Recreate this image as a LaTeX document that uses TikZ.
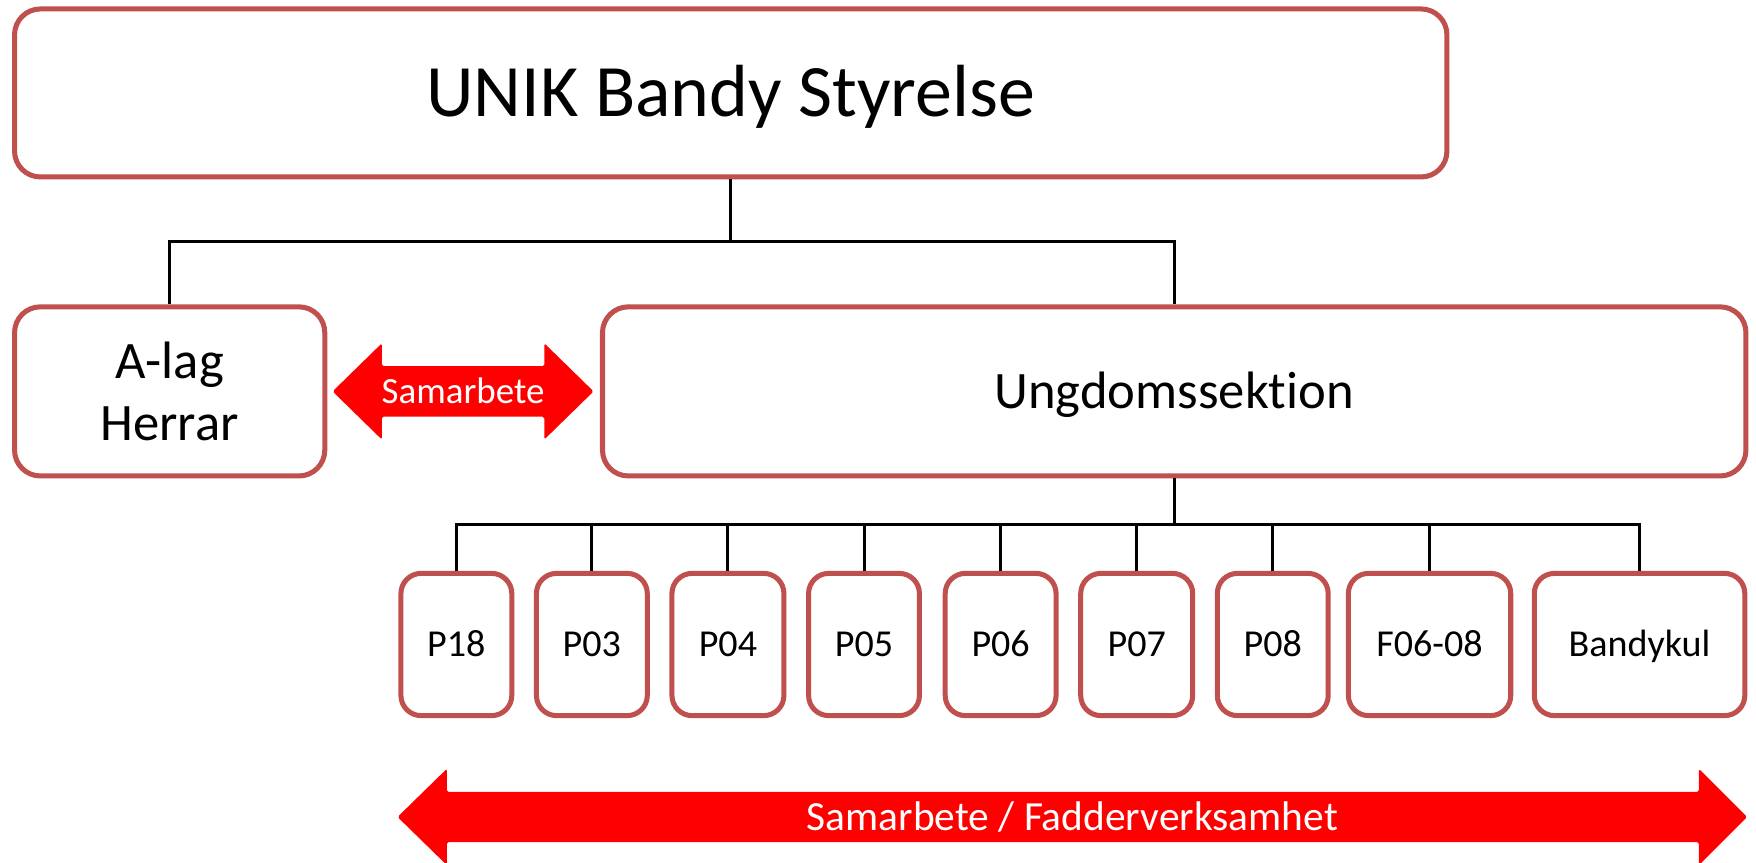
\documentclass[tikz,border=0pt]{standalone}
\usepackage{fontspec}
\setmainfont{Carlito}[Ligatures=NoCommon]
\definecolor{boxred}{HTML}{C0504D}
\begin{document}
\begin{tikzpicture}[x=1pt,y=-1pt,
  box/.style={draw=boxred, line width=4.5pt, rounded corners=23pt, fill=white, inner sep=0pt, align=center},
  smallbox/.style={box, rounded corners=18pt, minimum height=127pt, font=\fontsize{34}{41}\selectfont, text height=21.9pt, text depth=0pt},
  conn/.style={draw=black, line width=2.7pt},
  redarrow/.style={fill=red, rounded corners=1.5pt},
  arrowtext/.style={text=white, inner sep=0pt, text depth=0pt}
]
\useasboundingbox (0,0) rectangle (1568,770);

\node[box, minimum width=1279pt, minimum height=150pt, font=\fontsize{66}{79}\selectfont, text height=42.5pt, text depth=0pt] (top) at (652.5,83) {UNIK Bandy Styrelse};
\node[box, minimum width=277pt, minimum height=151pt, font=\fontsize{47}{56}\selectfont] (alag) at (151.5,349.5) {A-lag\\Herrar};
\node[box, minimum width=1021pt, minimum height=151pt, font=\fontsize{47}{56}\selectfont, text height=30.3pt, text depth=0pt] (ungdom) at (1048.5,349.5) {Ungdomssektion};

\foreach \n/\c/\w/\t in {p18/407.5/99/P18, p03/528.5/99/P03, p04/650/100/P04, p05/771.5/99/P05, p06/893.5/99/P06, p07/1015/100/P07, p08/1136.5/99/P08, f0608/1276.5/145/F06-08, bandykul/1464/188/Bandykul}
  \node[smallbox, minimum width=\w pt] (\n) at (\c,575.5) {\t};

\coordinate (j1) at (652.5,216);
\draw[conn] (top.south) -- (j1);
\draw[conn] (alag.north) |- (j1) -| (ungdom.north);

\coordinate (j2) at (1048.5,468);
\draw[conn] (ungdom.south) -- (j2);
\foreach \n in {p18,p03,p04,p05,p06,p07,p08,f0608,bandykul}
  \draw[conn] (j2) -| (\n.north);

\fill[redarrow] (297,349.5) -- (341,306.5) -- (341,327) -- (486,327) -- (486,306.5) -- (530,349.5) -- (486,392.5) -- (486,372) -- (341,372) -- (341,392.5) -- cycle;
\node[arrowtext, font=\fontsize{33}{40}\selectfont, text height=21.3pt] (sam) at (413.5,349.5) {Samarbete};

\fill[redarrow] (355,729.5) -- (399,686.5) -- (399,707) -- (1517,707) -- (1517,686.5) -- (1560,729.5) -- (1517,772.5) -- (1517,752) -- (399,752) -- (399,772.5) -- cycle;
\node[arrowtext, font=\fontsize{37}{44}\selectfont, text height=23.8pt] (fad) at (957.5,729.5) {Samarbete / Fadderverksamhet};
\end{tikzpicture}
\end{document}
